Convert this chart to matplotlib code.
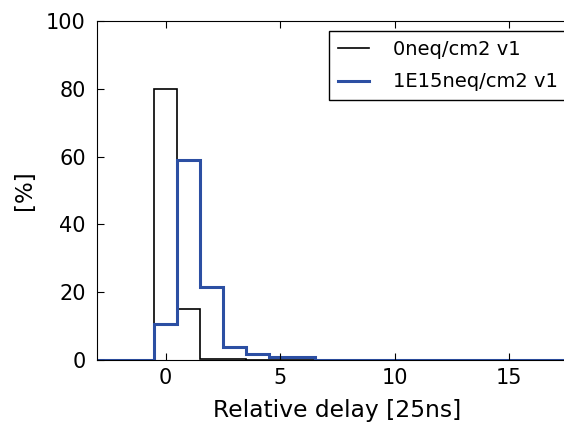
import matplotlib
matplotlib.use("Agg")
import matplotlib.pyplot as plt
import numpy as np

# bin edges at half-integers; values in percent per bin
edges = np.arange(-3.5, 21.0, 1.0)
bin_centers = np.arange(-3, 21)
fluence0 = {0: 80.0, 1: 15.0, 2: 0.3, 3: 0.3}
fluence1e15 = {0: 10.5, 1: 59.0, 2: 21.5, 3: 3.8, 4: 1.8, 5: 0.9, 6: 0.9}
labels = ["0neq/cm2 v1", "1E15neq/cm2 v1"]

v0 = np.array([fluence0.get(c, 0.0) for c in bin_centers])
v1 = np.array([fluence1e15.get(c, 0.0) for c in bin_centers])

fig = plt.figure(figsize=(5.64, 4.24), dpi=100)
ax = fig.add_axes([0.172, 0.151, 1.025 - 0.172, 0.950 - 0.151])
ax.stairs(v0, edges, color="black", lw=1.2, label=labels[0])
ax.stairs(v1, edges, color="#2c4fa3", lw=2.2, label=labels[1])
ax.set_xlim(-3, 18)
ax.set_ylim(0, 100)
ax.set_xticks([0, 5, 10, 15])
ax.set_yticks([0, 20, 40, 60, 80, 100])
ax.tick_params(direction="in", top=True, right=True, labelsize=15, length=5)
ax.tick_params(axis="y", pad=8)
ax.tick_params(axis="x", pad=6)
ax.set_xlabel("Relative delay [25ns]", fontsize=16.8, labelpad=8)
ax.set_ylabel("[%]", fontsize=16.5, labelpad=7)
leg = ax.legend(loc="upper left", bbox_to_anchor=(329 / 564, 1 - 31 / 424),
                bbox_transform=fig.transFigure, borderaxespad=0,
                fontsize=14, fancybox=False, framealpha=1, edgecolor="black",
                handlelength=1.6, handletextpad=1.25, borderpad=0.45,
                labelspacing=0.7)
leg.get_frame().set_linewidth(1.0)
fig.savefig("out.png", dpi=100)
